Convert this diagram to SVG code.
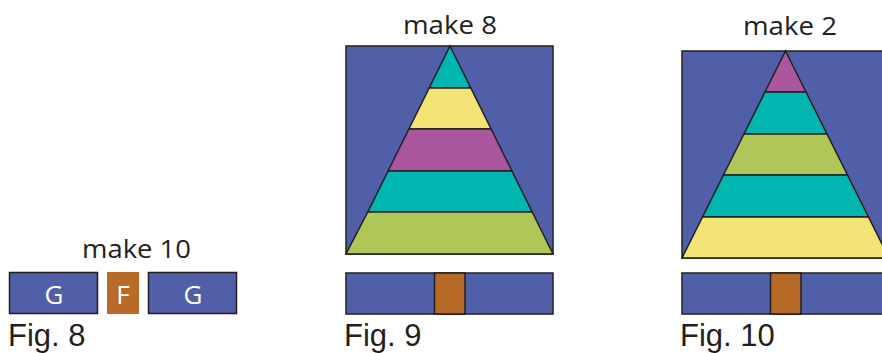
<svg xmlns="http://www.w3.org/2000/svg" width="882" height="353" viewBox="0 0 882 353">
<style>
text{font-family:"Open Sans","Liberation Sans",sans-serif;fill:#231f20}
.t{font-size:26px;text-anchor:middle}
.fig{font-family:"Liberation Sans",Arial,sans-serif;font-size:31px}
.w{fill:#fff;font-size:26px;text-anchor:middle}
.s{stroke:#231f20;stroke-width:1.5}
.blue{fill:#505fa8}
.teal{fill:#00b6b0}
.yel{fill:#f2e374}
.mag{fill:#ab579f}
.grn{fill:#afc758}
.org{fill:#b86a27}
</style>
<rect width="882" height="353" fill="#fff"/>
<g id="fig8">
<text class="t" x="136.5" y="258" textLength="109" lengthAdjust="spacingAndGlyphs">make 10</text>
<rect class="blue s" x="9.5" y="272.5" width="88" height="41"/>
<text class="w" x="54" y="304">G</text>
<rect class="org" x="107" y="272" width="32" height="42"/>
<text class="w" x="123" y="304">F</text>
<rect class="blue s" x="148.5" y="272.5" width="88" height="41"/>
<text class="w" x="193" y="304">G</text>
<text class="fig" x="8" y="346">Fig. 8</text>
</g>
<g id="fig9">
<text class="t" x="450" y="34" textLength="94" lengthAdjust="spacingAndGlyphs">make 8</text>
<rect class="blue s" x="346" y="46" width="207" height="208"/>
<polygon class="teal s" points="450,46 470.8,88 429.2,88"/>
<polygon class="yel s" points="429.2,88 470.8,88 491.1,129 408.9,129"/>
<polygon class="mag s" points="408.9,129 491.1,129 511.9,171 388.1,171"/>
<polygon class="teal s" points="388.1,171 511.9,171 532.2,212 367.8,212"/>
<polygon class="grn s" points="367.8,212 532.2,212 553,254 346,254"/>
<rect class="blue s" x="346" y="273" width="207" height="41"/>
<rect class="org s" x="434.5" y="273" width="30.5" height="41"/>
<text class="fig" x="344" y="346">Fig. 9</text>
</g>
<g id="fig10">
<text class="t" x="790" y="35" textLength="94" lengthAdjust="spacingAndGlyphs">make 2</text>
<rect class="blue s" x="682" y="51" width="207" height="207"/>
<polygon class="mag s" points="785.5,51 806,92 765,92"/>
<polygon class="teal s" points="765,92 806,92 827,134 744,134"/>
<polygon class="grn s" points="744,134 827,134 847.5,175 723.5,175"/>
<polygon class="teal s" points="723.5,175 847.5,175 868.5,217 702.5,217"/>
<polygon class="yel s" points="702.5,217 868.5,217 889,258 682,258"/>
<rect class="blue s" x="682" y="273" width="207" height="41"/>
<rect class="org s" x="770.5" y="273" width="30.5" height="41"/>
<text class="fig" x="680" y="346">Fig. 10</text>
</g>
</svg>
